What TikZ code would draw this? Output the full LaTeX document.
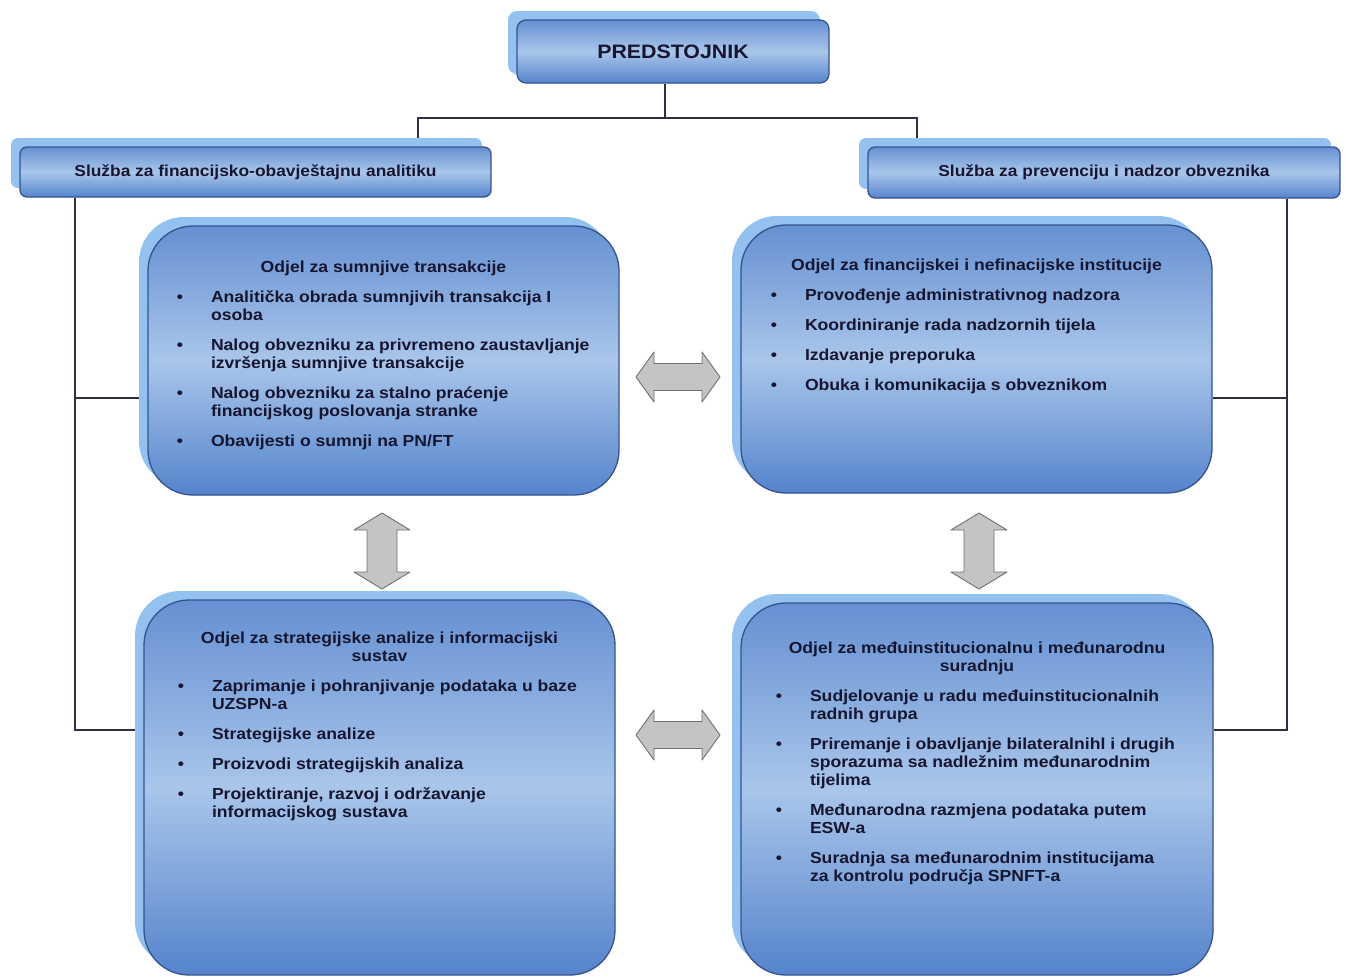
\documentclass[tikz,border=0pt]{standalone}
\usepackage{fontspec}
\setmainfont{Liberation Sans}[FakeStretch=1.1]
\usetikzlibrary{shadows,backgrounds,calc}
\definecolor{boxtop}{HTML}{6590D2}
\definecolor{boxmid}{HTML}{A9C6EA}
\definecolor{boxbot}{HTML}{5584CC}
\definecolor{boxedge}{HTML}{34538F}
\definecolor{shadowblue}{HTML}{93C2F0}
\definecolor{txt}{HTML}{161630}
\definecolor{linecol}{HTML}{2E2E45}
\definecolor{arrowfill}{HTML}{C4C4C4}
\definecolor{arrowedge}{HTML}{707070}
\newenvironment{blist}[1]{\begin{list}{\textbullet}{\setlength\leftmargin{#1}\setlength\labelwidth{20pt}\setlength\labelsep{28pt}\setlength\itemsep{12pt}\setlength\parsep{0pt}\setlength\topsep{12pt}\setlength\partopsep{0pt}\setlength\itemindent{0pt}\setlength\rightmargin{0pt}}}{\end{list}}
\newcommand{\boxtext}[6]{\begin{minipage}[t][#2][t]{#1}\vspace*{#3}{\centering\strut #4\par}\begin{blist}{#5}#6\end{blist}\vfill\end{minipage}}
\tikzset{
  boxshade/.style={top color=boxtop, bottom color=boxbot, middle color=boxmid},
  boxshadow/.style={general shadow={fill=shadowblue, shadow xshift=-9pt, shadow yshift=9pt}},
  bigbox/.style={draw=boxedge, line width=1.3pt, rounded corners=45pt, boxshade, boxshadow, inner sep=0pt, text=txt, font=\bfseries\fontsize{16}{18}\selectfont},
  svcbox/.style={draw=boxedge, line width=1.3pt, rounded corners=7pt, boxshade, boxshadow, inner sep=0pt, text=txt, font=\bfseries\fontsize{15.8}{18}\selectfont},
  predbox/.style={draw=boxedge, line width=1.3pt, rounded corners=9pt, boxshade, boxshadow, inner sep=0pt, text=txt, font=\bfseries\fontsize{19.4}{22}\selectfont},
  conn/.style={draw=linecol, line width=2pt},
  blockarrow/.style={draw=arrowedge, fill=arrowfill, line width=0.9pt, line join=round},
  harrow/.pic={\draw[blockarrow] (-42,0) -- (-24,-25) -- (-24,-13.5) -- (24,-13.5) -- (24,-25) -- (42,0) -- (24,25) -- (24,13.5) -- (-24,13.5) -- (-24,25) -- cycle;},
  varrow/.pic={\draw[blockarrow] (0,-38) -- (28,-21) -- (15,-21) -- (15,21) -- (28,21) -- (0,38) -- (-28,21) -- (-15,21) -- (-15,-21) -- (-28,-21) -- cycle;}
}
\begin{document}
\begin{tikzpicture}[x=1pt,y=-1pt]
\useasboundingbox (0,0) rectangle (1347,978);
% boxes
\node[predbox, minimum width=312pt, minimum height=63pt] (pred) at (673,51.5) {PREDSTOJNIK};
\node[svcbox, minimum width=471pt, minimum height=50pt] (svcL) at (255.5,172) {Služba za financijsko-obavještajnu analitiku};
\node[svcbox, minimum width=472pt, minimum height=51pt] (svcR) at (1104,172.5) {Služba za prevenciju i nadzor obveznika};
\node[bigbox, minimum width=471pt, minimum height=269pt] (tl) at (383.5,360.5) {\boxtext{471pt}{269pt}{33.5pt}{Odjel za sumnjive transakcije}{63pt}{%
\item Analitička obrada sumnjivih transakcija I\\ osoba
\item Nalog obvezniku za privremeno zaustavljanje\\ izvršenja sumnjive transakcije
\item Nalog obvezniku za stalno praćenje\\ financijskog poslovanja stranke
\item Obavijesti o sumnji na PN/FT}};
\node[bigbox, minimum width=471pt, minimum height=268pt] (tr) at (976.5,359) {\boxtext{471pt}{268pt}{33pt}{Odjel za financijskei i nefinacijske institucije}{64pt}{%
\item Provođenje administrativnog nadzora
\item Koordiniranje rada nadzornih tijela
\item Izdavanje preporuka
\item Obuka i komunikacija s obveznikom}};
\node[bigbox, minimum width=471pt, minimum height=375pt] (bl) at (379.5,787.5) {\boxtext{471pt}{375pt}{31pt}{Odjel za strategijske analize i informacijski\\ sustav}{68pt}{%
\item Zaprimanje i pohranjivanje podataka u baze\\ UZSPN-a
\item Strategijske analize
\item Proizvodi strategijskih analiza
\item Projektiranje,  razvoj  i održavanje\\ informacijskog sustava}};
\node[bigbox, minimum width=472pt, minimum height=372pt] (br) at (977,789) {\boxtext{472pt}{372pt}{38pt}{Odjel za međuinstitucionalnu i međunarodnu\\ suradnju}{69pt}{%
\item Sudjelovanje u radu međuinstitucionalnih\\ radnih grupa
\item Priremanje i obavljanje bilateralnihl i drugih\\ sporazuma sa nadležnim međunarodnim\\ tijelima
\item Međunarodna razmjena podataka putem\\ ESW-a
\item Suradnja sa međunarodnim institucijama\\ za kontrolu područja SPNFT-a}};
% connectors
\coordinate (jT) at (665,118);
\coordinate (jL) at (418,118);
\coordinate (jR) at (917,118);
\coordinate (hL1) at (75,398);
\coordinate (hL2) at (75,730);
\coordinate (hR1) at (1287,398);
\coordinate (hR2) at (1287,730);
\begin{pgfonlayer}{background}
\fill[white] (0,0) rectangle (1347,978);
\draw[conn] (pred.south -| jT) -- (jT);
\draw[conn] (svcL.north -| jL) -- (jL) -- (jR) -- (svcR.north -| jR);
\draw[conn] (svcL.south -| hL1) -- (hL2) -- (hL2 -| bl.west);
\draw[conn] (hL1) -- (hL1 -| tl.west);
\draw[conn] (svcR.south -| hR1) -- (hR2) -- (hR2 -| br.east);
\draw[conn] (hR1) -- (hR1 -| tr.east);
\end{pgfonlayer}
% block arrows
\pic at (678,377) {harrow};
\pic at (678,735) {harrow};
\pic at (382,551) {varrow};
\pic at (979,551) {varrow};
\end{tikzpicture}
\end{document}
